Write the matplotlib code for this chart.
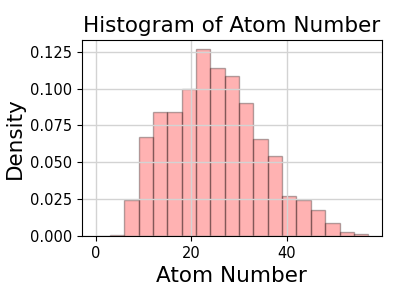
import numpy as np
import matplotlib.pyplot as plt

# histogram: bin edges and density per bin
bin_edges = [0, 3, 6, 9, 12, 15, 18, 21, 24, 27, 30, 33, 36, 39, 42, 45, 48, 51, 54, 57]
density = [0.0, 0.0009, 0.0242, 0.0672, 0.0842, 0.0842, 0.0995, 0.1266, 0.1142, 0.1084,
           0.0905, 0.0659, 0.0542, 0.0269, 0.0242, 0.0179, 0.0085, 0.0025, 0.0011]

fig = plt.figure(figsize=(3.99, 2.99), dpi=100)
ax = fig.add_axes([0.2055, 0.211, 0.7515, 0.655])

edges = np.array(bin_edges, dtype=float)
ax.hist(edges[:-1], bins=edges, weights=density, color='red', alpha=0.3, edgecolor='black')
ax.grid(True, color='lightgray', linewidth=1.0)
ax.set_title('Histogram of Atom Number', fontsize=15.5)
ax.set_xlabel('Atom Number', fontsize=15.5)
ax.set_ylabel('Density', fontsize=15.5)
ax.tick_params(labelsize=10.5)

fig.savefig('out.png', dpi=100)
